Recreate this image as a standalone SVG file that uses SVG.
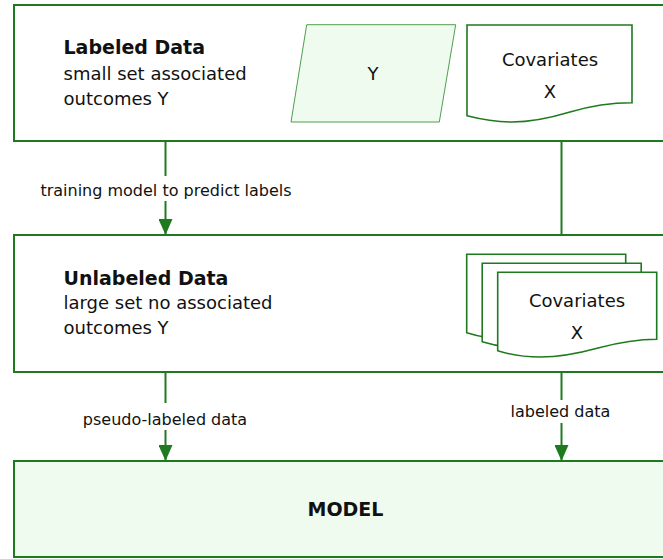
<svg xmlns="http://www.w3.org/2000/svg" width="663" height="559" viewBox="0 0 663 559">
<style>
.box{fill:#ffffff;stroke:#1f7a1f;stroke-width:2}
.boxg{fill:#eefbee;stroke:#1f7a1f;stroke-width:2}
.para{fill:#eefbee;stroke:#4f9f4f;stroke-width:1}
.doc{fill:#ffffff;stroke:#1f7a1f;stroke-width:1.6}
.t{font-family:"DejaVu Sans",Verdana,sans-serif;font-size:18px;fill:#111}
.b{font-family:"DejaVu Sans",Verdana,sans-serif;font-size:19px;font-weight:bold;fill:#111}
.lbl{font-family:"DejaVu Sans",Verdana,sans-serif;font-size:16px;fill:#111;text-anchor:middle}
.c{text-anchor:middle}
.conn{stroke:#1f7a1f;stroke-width:2;fill:none}
</style>
<defs>
<marker id="arr" markerUnits="userSpaceOnUse" markerWidth="16" markerHeight="14" refX="16" refY="7" orient="auto" viewBox="0 0 16 14">
<path d="M0,0 L16,7 L0,14 Z" fill="#1f7a1f"/>
</marker>
<path id="docs" d="M497.7,272.3 H656.7 V339.3 C637,339.3 617,343 598,348 C580,353 560,357 540,357 C522,357 508,354 497.7,350.7 Z"/>
</defs>
<g id="labeled">
<rect class="box" x="14" y="5" width="680" height="136"/>
<text class="b" x="63.5" y="53.5">Labeled Data</text>
<text class="t" x="63.5" y="79.5">small set associated</text>
<text class="t" x="63.5" y="105">outcomes Y</text>
</g>
<g id="y-node">
<polygon class="para" points="306.7,24.7 455.7,24.7 439.3,122 291,122"/>
<text class="t c" x="373" y="80">Y</text>
</g>
<g id="covariates1">
<path class="doc" d="M467,25 H632 V102.7 C612,102.7 590,106 570,112 C550,118 530,122 512,122 C495,122 480,119 467,115.7 Z"/>
<text class="t c" x="550" y="65.5">Covariates</text>
<text class="t c" x="550" y="98">X</text>
</g>
<g id="unlabeled">
<rect class="box" x="14" y="235" width="680" height="137"/>
<text class="b" x="63.5" y="284.5">Unlabeled Data</text>
<text class="t" x="63.5" y="309">large set no associated</text>
<text class="t" x="63.5" y="334">outcomes Y</text>
</g>
<g id="covariates2">
<use href="#docs" class="doc" transform="translate(-31,-18)"/>
<use href="#docs" class="doc" transform="translate(-15.5,-9)"/>
<use href="#docs" class="doc"/>
<text class="t c" x="577" y="306.5">Covariates</text>
<text class="t c" x="577" y="339">X</text>
</g>
<g id="model">
<rect class="boxg" x="14" y="461" width="680" height="96"/>
<text class="b c" x="345.5" y="515.5">MODEL</text>
</g>
<g id="connectors">
<path class="conn" d="M165.5,142 V235" marker-end="url(#arr)"/>
<rect x="36" y="176" width="262" height="25" fill="#ffffff"/>
<text class="lbl" x="166" y="196">training model to predict labels</text>
<path class="conn" d="M561.5,142 V234"/>
<path class="conn" d="M165.5,373 V461" marker-end="url(#arr)"/>
<rect x="80" y="403" width="170" height="27" fill="#ffffff"/>
<text class="lbl" x="165" y="425">pseudo-labeled data</text>
<path class="conn" d="M561.5,373 V461" marker-end="url(#arr)"/>
<rect x="508" y="400" width="106" height="23" fill="#ffffff"/>
<text class="lbl" x="560.5" y="416.5">labeled data</text>
</g>
</svg>
